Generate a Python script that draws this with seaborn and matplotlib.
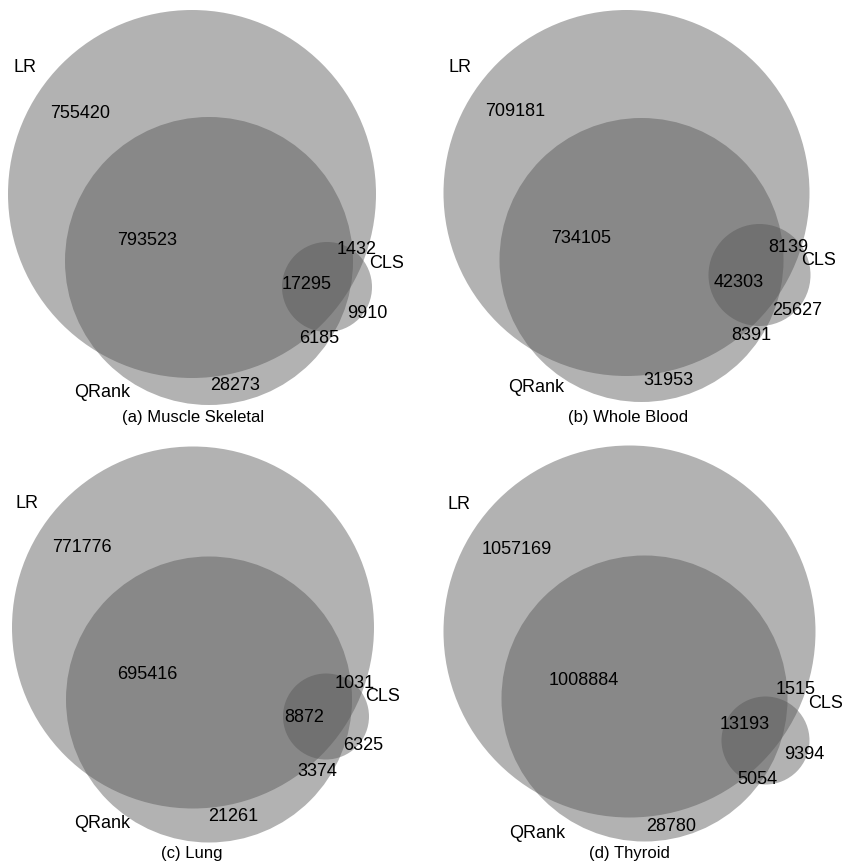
import matplotlib
matplotlib.use("Agg")
import matplotlib.pyplot as plt
import seaborn as sns
from matplotlib.patches import Circle

# region counts per tissue, order:
# LR only, LR&QRank, LR&CLS, all three, CLS only, QRank&CLS, QRank only
panels = ['(a) Muscle Skeletal', '(b) Whole Blood', '(c) Lung', '(d) Thyroid']
muscle = [755420, 793523, 1432, 17295, 9910, 6185, 28273]
blood = [709181, 734105, 8139, 42303, 25627, 8391, 31953]
lung = [771776, 695416, 1031, 8872, 6325, 3374, 21261]
thyroid = [1057169, 1008884, 1515, 13193, 9394, 5054, 28780]
counts = [muscle, blood, lung, thyroid]
set_names = ['LR', 'QRank', 'CLS']

# layout (pixel units inside each panel): circles as (cx, cy, r) for LR, QRank, CLS
circles = [
    [(192, 194, 184), (209, 261, 144), (327, 287, 45)],
    [(204, 193, 183), (219, 260, 142), (337, 275, 51)],
    [(193, 196, 181), (209, 268, 143), (326, 285, 43)],
    [(207, 200, 186), (222, 267, 143), (343, 309, 44)],
]
# label positions for the 7 regions
region_xy = [
    [(80, 113), (147, 240), (357, 249), (307, 284), (367, 313), (319, 338), (235, 385)],
    [(93, 111), (159, 238), (366, 247), (316, 282), (375, 310), (329, 335), (246, 380)],
    [(82, 116), (147, 243), (355, 252), (304, 286), (363, 314), (317, 340), (233, 385)],
    [(94, 118), (161, 249), (373, 258), (322, 293), (382, 323), (335, 348), (249, 395)],
]
# set name positions LR, QRank, CLS and caption
name_xy = [
    [(25, 67), (102, 392), (387, 263)],
    [(38, 67), (114, 387), (396, 260)],
    [(27, 72), (102, 392), (383, 265)],
    [(37, 73), (115, 402), (403, 272)],
]
caption_xy = [(193, 417), (206, 417), (192, 422), (207, 422)]

sns.set_theme(style='white')
plt.rcParams['font.family'] = ['Liberation Sans', 'DejaVu Sans']

fig, axes = plt.subplots(2, 2, figsize=(8.45, 8.63), dpi=100)
plt.subplots_adjust(left=0, right=1, bottom=0, top=1, wspace=0, hspace=0)

fill = sns.color_palette(['#555555'])[0]

for k, ax in enumerate(axes.flat):
    ax.set_xlim(0, 422.5)
    ax.set_ylim(431.5, 0)
    ax.axis('off')
    for (cx, cy, r) in circles[k]:
        ax.add_patch(Circle((cx, cy), r, facecolor=fill, edgecolor='none', alpha=0.45))
    for val, (x, y) in zip(counts[k], region_xy[k]):
        ax.text(x, y, str(val), ha='center', va='center', fontsize=13, color='black')
    for name, (x, y) in zip(set_names, name_xy[k]):
        ax.text(x, y, name, ha='center', va='center', fontsize=13, color='black')
    ax.text(caption_xy[k][0], caption_xy[k][1], panels[k], ha='center', va='center',
            fontsize=12, color='black')

plt.savefig('out.png', dpi=100)
